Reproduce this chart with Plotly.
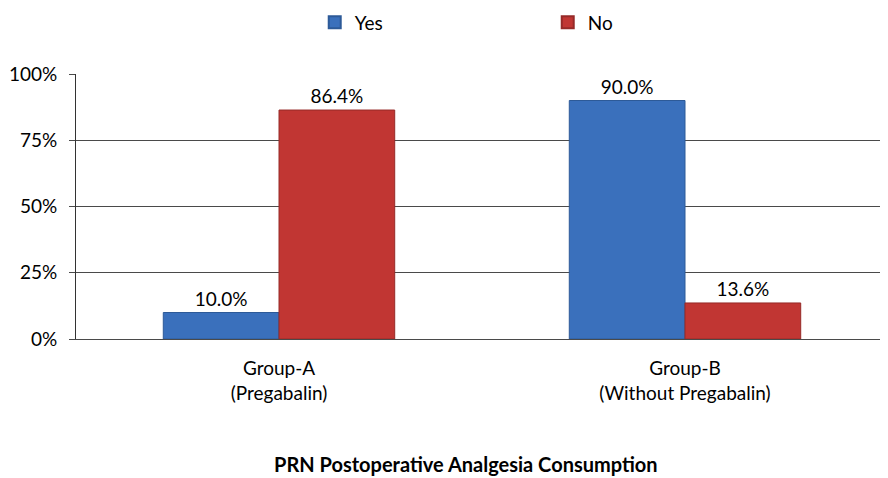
import plotly.graph_objects as go

# data
groups = ["Group-A<br>(Pregabalin)", "Group-B<br>(Without Pregabalin)"]
yes_vals = [10.0, 90.0]
no_vals = [86.4, 13.6]
y_ticks = [0, 25, 50, 75, 100]
y_tick_text = ["0%", "25%", "50%", "75%", "100%"]

FONT = "Lato"

fig = go.Figure()
fig.add_trace(go.Bar(
    name="Yes", x=groups, y=yes_vals,
    marker=dict(color="#3A70BC", line=dict(color="#2D5A98", width=1)),
    texttemplate="%{y:.1f}%", textposition="outside",
    textfont=dict(size=19, color="black", family=FONT),
    cliponaxis=False,
))
fig.add_trace(go.Bar(
    name="No", x=groups, y=no_vals,
    marker=dict(color="#C13633", line=dict(color="#962A28", width=1)),
    texttemplate="%{y:.1f}%", textposition="outside",
    textfont=dict(size=19, color="black", family=FONT),
    cliponaxis=False,
))

# page has an 8px body margin, so the figure is drawn 8px smaller
fig.update_layout(
    width=880, height=470,
    margin=dict(l=68, r=0, t=66, b=139, autoexpand=False),
    plot_bgcolor="white", paper_bgcolor="white",
    font=dict(family=FONT, size=19, color="black"),
    barmode="group", bargap=0.43, bargroupgap=0,
    legend=dict(
        orientation="h", x=0.294, xanchor="left", y=1.195, yanchor="middle",
        entrywidth=188, font=dict(size=19), itemsizing="constant",
    ),
    annotations=[dict(
        text="<b>PRN Postoperative Analgesia Consumption</b>",
        x=0.48, xref="paper", y=-0.47, yref="paper",
        xanchor="center", yanchor="middle", showarrow=False,
        font=dict(size=20, family=FONT),
    )],
)
fig.update_yaxes(
    range=[0, 100], tickvals=y_ticks, ticktext=y_tick_text,
    showgrid=True, gridcolor="#4a4a4a", gridwidth=1,
    showline=True, linecolor="#333333", linewidth=1,
    ticks="outside", ticklen=6, tickcolor="#4a4a4a",
    ticklabelstandoff=8, tickfont=dict(size=19), zeroline=False,
)
fig.update_xaxes(
    showline=True, linecolor="#4a4a4a", linewidth=1,
    tickfont=dict(size=19), ticks="", ticklabelstandoff=12,
)

fig.write_html("out.html")
